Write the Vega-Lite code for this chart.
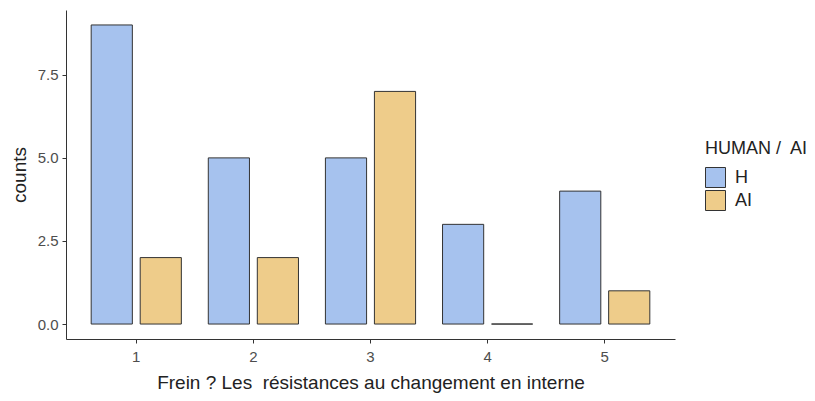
{
  "$schema": "https://vega.github.io/schema/vega-lite/v6.json",
  "autosize": {"type": "none"},
  "padding": {"left": 66, "top": 10, "right": 140, "bottom": 62},
  "width": 609,
  "height": 329,
  "background": "white",
  "config": {
    "font": "Liberation Sans",
    "view": {"stroke": null}
  },
  "data": {
    "values": [
      {"q": "1", "group": "H", "count": 9},
      {"q": "1", "group": "AI", "count": 2},
      {"q": "2", "group": "H", "count": 5},
      {"q": "2", "group": "AI", "count": 2},
      {"q": "3", "group": "H", "count": 5},
      {"q": "3", "group": "AI", "count": 7},
      {"q": "4", "group": "H", "count": 3},
      {"q": "4", "group": "AI", "count": 0},
      {"q": "5", "group": "H", "count": 4},
      {"q": "5", "group": "AI", "count": 1}
    ]
  },
  "mark": {"type": "bar", "stroke": "#333333", "strokeWidth": 1},
  "encoding": {
    "x": {
      "field": "q", "type": "nominal",
      "scale": {"paddingInner": 0.23, "paddingOuter": 0.215},
      "axis": {
        "title": "Frein ? Les\u00a0 résistances au changement en interne",
        "labelAngle": 0, "labelColor": "#4d4d4d", "labelFontSize": 15,
        "labelPadding": 6, "tickColor": "#333333", "tickSize": 4,
        "domainColor": "#333333", "titleFontSize": 19, "titleFontWeight": "normal",
        "titleColor": "#222222", "titlePadding": 9
      }
    },
    "xOffset": {
      "field": "group", "type": "nominal", "sort": ["H", "AI"],
      "scale": {"paddingInner": 0.16, "paddingOuter": 0}
    },
    "y": {
      "field": "count", "type": "quantitative",
      "scale": {"domain": [-0.45, 9.45], "nice": false, "zero": false},
      "axis": {
        "title": "counts", "values": [0, 2.5, 5, 7.5], "format": ".1f",
        "grid": false, "labelColor": "#4d4d4d", "labelFontSize": 15,
        "labelPadding": 4, "tickColor": "#333333", "tickSize": 4,
        "domainColor": "#333333", "titleFontSize": 19, "titleFontWeight": "normal",
        "titleColor": "#222222", "titlePadding": 8
      }
    },
    "y2": {"datum": 0},
    "fill": {
      "field": "group", "type": "nominal", "sort": ["H", "AI"],
      "scale": {"domain": ["H", "AI"], "range": ["#a6c2ee", "#eecc8a"]},
      "legend": {
        "title": "HUMAN /\u00a0 AI", "orient": "none", "legendX": 639, "legendY": 130,
        "titleFontSize": 18, "titleFontWeight": "normal", "titleColor": "#222222",
        "labelFontSize": 18, "labelColor": "#222222",
        "symbolType": "square", "symbolSize": 400, "symbolStrokeColor": "#333333",
        "symbolStrokeWidth": 1, "rowPadding": -2, "titlePadding": 9, "labelOffset": 9
      }
    }
  }
}
